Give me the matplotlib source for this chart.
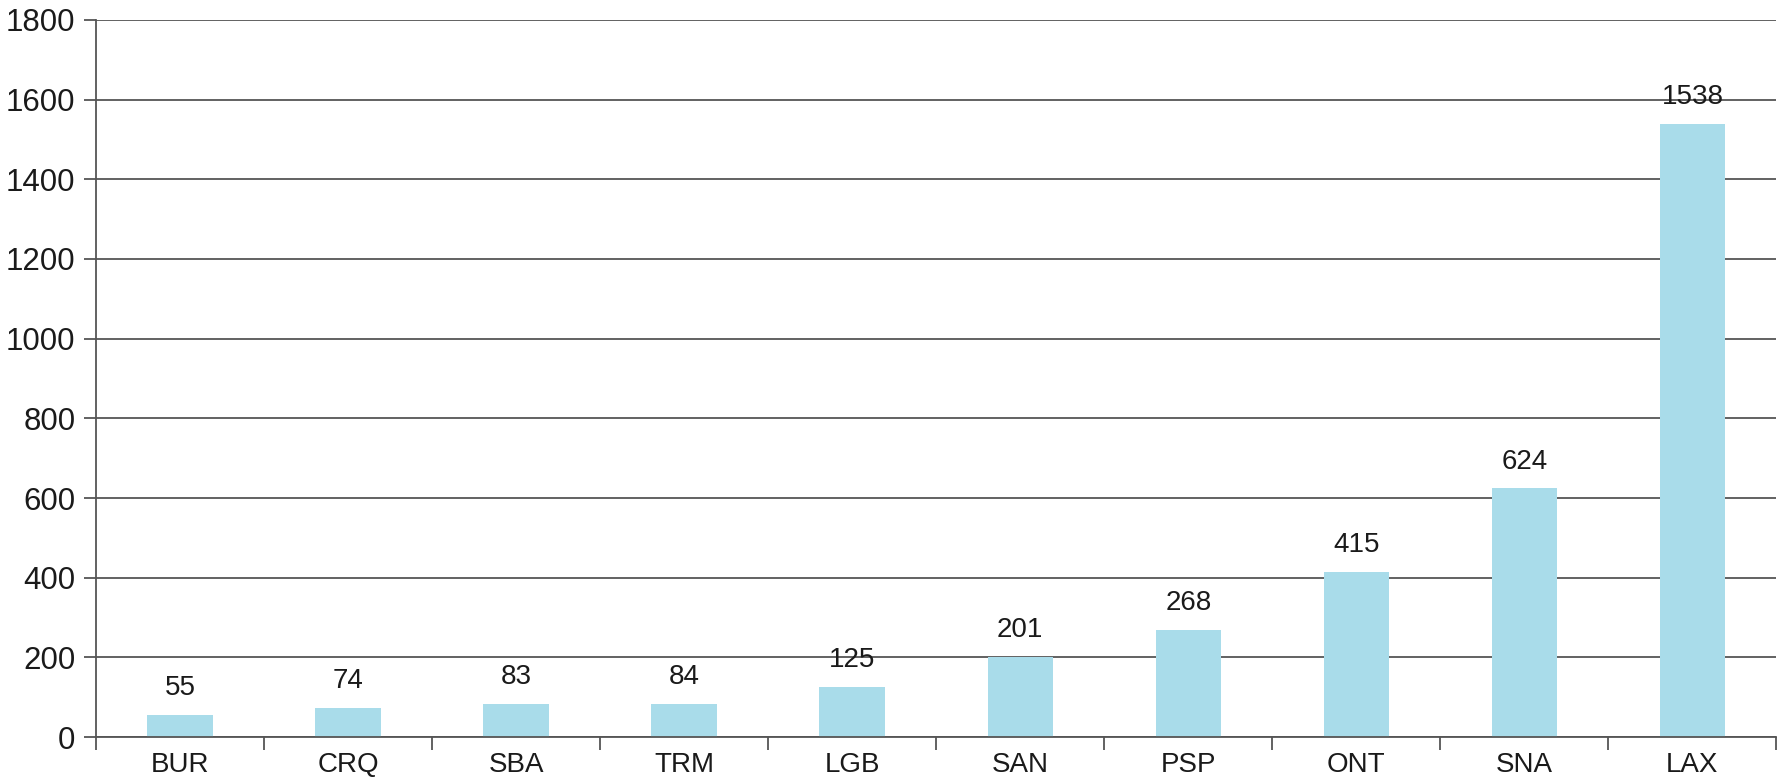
import matplotlib.pyplot as plt
import numpy as np

airports = ['BUR', 'CRQ', 'SBA', 'TRM', 'LGB', 'SAN', 'PSP', 'ONT', 'SNA', 'LAX']
counts = [55, 74, 83, 84, 125, 201, 268, 415, 624, 1538]
y_ticks = [0, 200, 400, 600, 800, 1000, 1200, 1400, 1600, 1800]


def main():
    plt.rcParams['font.family'] = ['Liberation Sans', 'DejaVu Sans']
    fig = plt.figure(figsize=(17.8, 7.82), dpi=100)
    ax = fig.add_axes([0.054, 0.0575, 0.944, 0.917])

    x = np.arange(len(airports))
    bars = ax.bar(x, counts, width=0.39, color='#a9dcea', zorder=3)

    for rect, val in zip(bars, counts):
        ax.annotate(str(val), (rect.get_x() + rect.get_width() / 2, rect.get_height()),
                    xytext=(0, 10), textcoords='offset points',
                    ha='center', va='bottom', fontsize=20, color='#1a1a1a', zorder=4)

    ax.set_ylim(0, 1800)
    ax.set_xlim(-0.5, len(airports) - 0.5)
    ax.set_yticks(y_ticks)
    ax.set_yticklabels([str(v) for v in y_ticks], fontsize=22.5, color='#1a1a1a')
    ax.yaxis.grid(True, color='#555555', linewidth=1.3, zorder=1)
    ax.tick_params(axis='y', length=9, width=1.3, color='#555555', pad=6)

    ax.set_xticks(x)
    ax.set_xticklabels(airports, fontsize=20, color='#1a1a1a')
    ax.set_xticks(np.arange(-0.5, len(airports)), minor=True)
    ax.tick_params(axis='x', which='major', length=0, pad=11)
    ax.tick_params(axis='x', which='minor', length=9, width=1.3, color='#555555')

    for side in ['top', 'right']:
        ax.spines[side].set_visible(False)
    for side in ['left', 'bottom']:
        ax.spines[side].set_color('#555555')
        ax.spines[side].set_linewidth(1.3)
        ax.spines[side].set_zorder(5)

    fig.savefig('out.png', dpi=100)


if __name__ == '__main__':
    main()
